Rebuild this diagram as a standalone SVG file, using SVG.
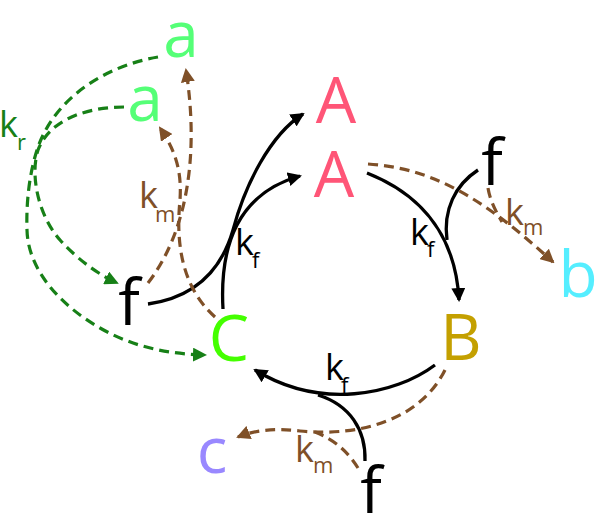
<svg xmlns="http://www.w3.org/2000/svg" width="597" height="531" viewBox="0 0 597 531">
<defs>
<style>
.big{font-family:"Open Sans","DejaVu Sans",sans-serif;font-size:64px;text-anchor:middle}
.lbl{font-family:"Open Sans","DejaVu Sans",sans-serif;font-size:36px}
.sub{font-size:22px}
.solid{fill:none;stroke:#000;stroke-width:3.3}
.brown{fill:none;stroke:#7f5028;stroke-width:3.2;stroke-dasharray:10,6}
.green{fill:none;stroke:#178017;stroke-width:3.2;stroke-dasharray:10,6}
</style>
<marker id="ab" viewBox="0 0 14 14" refX="12" refY="7" markerWidth="14" markerHeight="14" markerUnits="userSpaceOnUse" orient="auto"><path d="M0,0 L14,7 L0,14 z" fill="#000"/></marker>
<marker id="abr" viewBox="0 0 14 14" refX="12" refY="7" markerWidth="14" markerHeight="14" markerUnits="userSpaceOnUse" orient="auto"><path d="M0,0 L14,7 L0,14 z" fill="#7f5028"/></marker>
<marker id="ag" viewBox="0 0 14 14" refX="12" refY="7" markerWidth="14" markerHeight="14" markerUnits="userSpaceOnUse" orient="auto"><path d="M0,0 L14,7 L0,14 z" fill="#178017"/></marker>
</defs>
<rect width="597" height="531" fill="#fff"/>
<g id="connectors">
<path class="solid" d="M148,304 C190,298 220,275 233,230 C245,185 270,135 303,114" marker-end="url(#ab)"/>
<path class="solid" d="M223,309 C220,255 232,195 300,176" marker-end="url(#ab)"/>
<path class="solid" d="M367,173 C410,190 455,225 459,300" marker-end="url(#ab)"/>
<path class="solid" d="M478,170 C455,185 443,210 447,240"/>
<path class="solid" d="M435,365 C395,395 320,410 255,370" marker-end="url(#ab)"/>
<path class="solid" d="M365,461 C366,430 350,405 318,395"/>
<path class="brown" d="M148,283 C185,235 200,160 186,70" marker-end="url(#abr)"/>
<path class="brown" d="M215,317 C185,290 175,250 180,200 C182,170 175,150 160,128" marker-end="url(#abr)"/>
<path class="brown" d="M368,164 C430,168 480,195 553,262" marker-end="url(#abr)"/>
<path class="brown" d="M488,188 C490,200 495,210 502,222"/>
<path class="brown" d="M445,370 C420,420 360,437 300,431 C275,428 255,430 238,437" marker-end="url(#abr)"/>
<path class="brown" d="M358,468 C348,452 335,440 315,432"/>
<path class="green" d="M158,57 C110,65 55,95 37,150 C30,172 26,200 27,230 C28,270 60,305 100,328 C135,348 170,354 205,355" marker-end="url(#ag)"/>
<path class="green" d="M124,107 C90,107 50,118 38,150 C30,175 38,215 60,240 C80,262 100,275 117,283" marker-end="url(#ag)"/>
</g>
<g id="node-a1"><text class="big" x="181" y="57" fill="#55ff77">a</text></g>
<g id="node-a2"><text class="big" x="145" y="121" fill="#55ff77">a</text></g>
<g id="node-A1"><text class="big" x="336" y="123" fill="#ff5577">A</text></g>
<g id="node-A2"><text class="big" x="334" y="197" fill="#ff5577">A</text></g>
<g id="node-f-right"><text class="big" x="492" y="185" fill="#000">f</text></g>
<g id="node-b"><text class="big" x="578" y="297" fill="#55eeff">b</text></g>
<g id="node-B"><text class="big" x="461" y="360" fill="#c4a000">B</text></g>
<g id="node-C"><text class="big" x="229" y="361" fill="#44ff00">C</text></g>
<g id="node-f-left"><text class="big" x="129" y="325" fill="#000">f</text></g>
<g id="node-c"><text class="big" x="212" y="473" fill="#9988ff">c</text></g>
<g id="node-f-bottom"><text class="big" x="371" y="513" fill="#000">f</text></g>
<g id="labels">
<text class="lbl" fill="#178017"><tspan x="-1" y="137">k</tspan><tspan class="sub" x="17" y="150">r</tspan></text>
<text class="lbl" fill="#7f5028"><tspan x="139" y="208">k</tspan><tspan class="sub" x="155" y="222">m</tspan></text>
<text class="lbl" fill="#000"><tspan x="235" y="255">k</tspan><tspan class="sub" x="252" y="268">f</tspan></text>
<text class="lbl" fill="#000"><tspan x="410" y="245">k</tspan><tspan class="sub" x="427" y="257">f</tspan></text>
<text class="lbl" fill="#7f5028"><tspan x="505" y="225">k</tspan><tspan class="sub" x="523" y="235">m</tspan></text>
<text class="lbl" fill="#000"><tspan x="325" y="380">k</tspan><tspan class="sub" x="341" y="393">f</tspan></text>
<text class="lbl" fill="#7f5028"><tspan x="295" y="462">k</tspan><tspan class="sub" x="313" y="473">m</tspan></text>
</g>
</svg>
